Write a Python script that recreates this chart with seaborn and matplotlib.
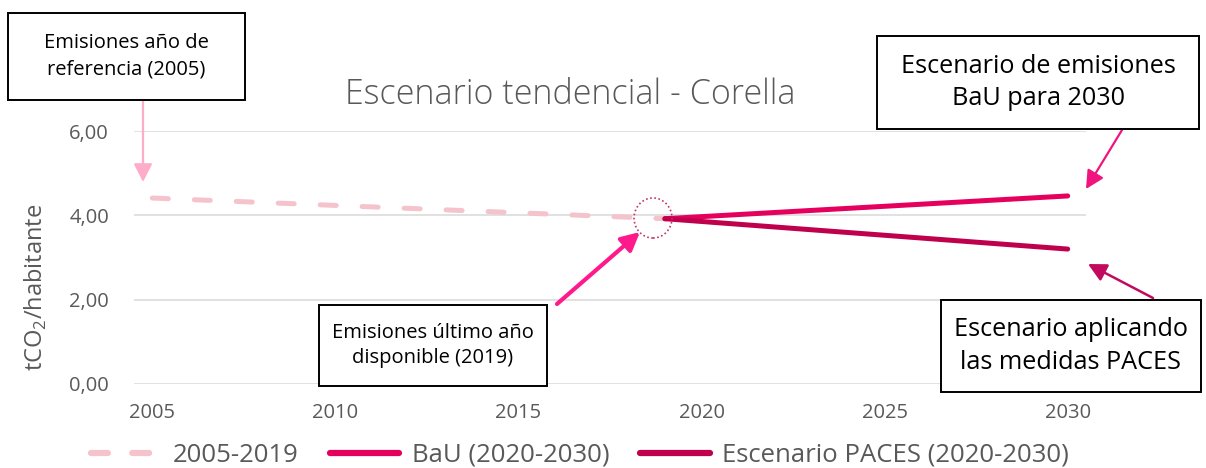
import matplotlib
matplotlib.use("Agg")
import matplotlib.pyplot as plt
from matplotlib.patches import Rectangle, FancyArrowPatch, Ellipse
from matplotlib.lines import Line2D
import seaborn as sns
import pandas as pd

# Series values (tCO2 per inhabitant)
hist_years = [2005, 2019]
hist_values = [4.41, 3.92]
bau_years = [2019, 2030]
bau_values = [3.92, 4.46]
paces_years = [2019, 2030]
paces_values = [3.92, 3.20]

series_labels = ["2005-2019", "BaU (2020-2030)", "Escenario PACES (2020-2030)"]
x_ticks = [2005, 2010, 2015, 2020, 2025, 2030]
y_ticks = [0, 2, 4, 6]
y_tick_labels = ["0,00", "2,00", "4,00", "6,00"]

title = "Escenario tendencial - Corella"
y_label = "tCO$_2$/habitante"

c_hist = "#f4c3cc"
c_bau = "#e6005e"
c_paces = "#bf004d"
c_text = "#595959"
c_grid = "#d9d9d9"

sns.set_theme(style="white")
plt.rcParams["font.family"] = ["Open Sans", "DejaVu Sans"]
plt.rcParams["mathtext.fontset"] = "custom"
plt.rcParams["mathtext.rm"] = "Open Sans"

W, H = 1206, 468
fig = plt.figure(figsize=(W / 100, H / 100), dpi=100)


def fx(x):
    return x / W


def fy(y):
    return 1 - y / H


ax = fig.add_axes([fx(134), fy(384), fx(1086) - fx(134), fy(131) - fy(384)])

df_hist = pd.DataFrame({"year": hist_years, "value": hist_values})
df_bau = pd.DataFrame({"year": bau_years, "value": bau_values})
df_paces = pd.DataFrame({"year": paces_years, "value": paces_values})

sns.lineplot(data=df_hist, x="year", y="value", ax=ax, color=c_hist, linewidth=3.6,
             linestyle=(0, (3.2, 5.2)), dash_capstyle="round", label=series_labels[0])
sns.lineplot(data=df_bau, x="year", y="value", ax=ax, color=c_bau, linewidth=3.6,
             solid_capstyle="round", label=series_labels[1])
sns.lineplot(data=df_paces, x="year", y="value", ax=ax, color=c_paces, linewidth=3.6,
             solid_capstyle="round", label=series_labels[2])

ax.set_xlim(2004.5, 2030.5)
ax.set_ylim(0, 6)
ax.set_xticks(x_ticks)
ax.set_xticklabels([str(t) for t in x_ticks])
ax.set_yticks(y_ticks)
ax.set_yticklabels(y_tick_labels)
ax.tick_params(axis="both", length=0, labelsize=14.5, labelcolor=c_text)
ax.tick_params(axis="x", pad=14)
ax.tick_params(axis="y", pad=18)
ax.yaxis.grid(True, color=c_grid, linewidth=1.1)
ax.xaxis.grid(False)
for s in ax.spines.values():
    s.set_visible(False)
ax.set_xlabel("")
ax.set_ylabel(y_label, fontsize=17, color=c_text)
ax.yaxis.set_label_coords(-0.089, 0.383)
ax.patch.set_alpha(0)

fig.text(fx(570), fy(95), title, ha="center", va="center", fontsize=24.5,
         color=c_text, fontweight="light")

# Legend below the plot
handles = [
    Line2D([], [], color=c_hist, linewidth=4.5, linestyle=(0, (2.7, 3.9)), dash_capstyle="round"),
    Line2D([], [], color=c_bau, linewidth=4.5, solid_capstyle="round"),
    Line2D([], [], color=c_paces, linewidth=4.5, solid_capstyle="round"),
]
ax.legend(handles, series_labels, loc="center", bbox_to_anchor=(fx(580), fy(455)),
          bbox_transform=fig.transFigure, ncol=3, frameon=False,
          prop={"size": 18.5},
          labelcolor=c_text, handlelength=2.7, handletextpad=0.5, columnspacing=1.2)


def box(x0, y0, x1, y1, text, size):
    fig.patches.append(Rectangle((fx(x0), fy(y1)), fx(x1) - fx(x0), fy(y0) - fy(y1),
                                 transform=fig.transFigure, facecolor="white",
                                 edgecolor="black", linewidth=1.4, zorder=5))
    fig.text(fx((x0 + x1) / 2), fy((y0 + y1) / 2), text, ha="center", va="center",
             fontsize=size, color="black", linespacing=1.4, zorder=6)


def arrow(x0, y0, x1, y1, color, lw=2.0):
    fig.patches.append(FancyArrowPatch((fx(x0), fy(y0)), (fx(x1), fy(y1)),
                                       transform=fig.transFigure,
                                       arrowstyle="-|>,head_length=0.55,head_width=0.28",
                                       mutation_scale=20, color=color, linewidth=lw,
                                       shrinkA=0, shrinkB=0, zorder=4))


box(8, 13, 245, 100, "Emisiones año de\nreferencia (2005)", 14.5)
arrow(143, 100, 143, 182, "#ffaccb", lw=1.6)

box(877, 36, 1199, 129, "Escenario de emisiones\nBaU para 2030", 18.2)
arrow(1122, 130, 1086, 189, "#f0157e", lw=1.6)

box(319, 305, 547, 386, "Emisiones último año\ndisponible (2019)", 14.5)
arrow(557, 304, 640, 232, "#ff1a8c", lw=3.0)

box(941, 300, 1201, 392, "Escenario aplicando\nlas medidas PACES", 18.2)
arrow(1153, 298, 1088, 264, "#c20a5e", lw=1.8)

# Marker around the last available year
fig.patches.append(Ellipse((fx(653), fy(218)), 38 / W, 40 / H, transform=fig.transFigure,
                           fill=False, edgecolor="#c0336e", linewidth=1.2,
                           linestyle=(0, (1, 1.5)), zorder=4))

fig.savefig("out.png", dpi=100)
